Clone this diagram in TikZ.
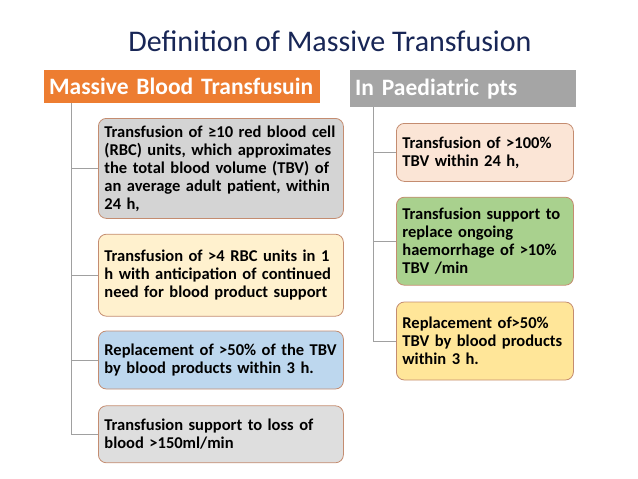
\documentclass[tikz,border=0pt]{standalone}
\usepackage{fontspec}
\setmainfont{Carlito}
\usepackage{xcolor}
\usetikzlibrary{positioning}

\definecolor{titleblue}{RGB}{24,38,86}
\definecolor{headorange}{RGB}{237,125,49}
\definecolor{headgray}{RGB}{165,165,165}
\definecolor{boxline}{RGB}{196,140,112}
\definecolor{trunkgray}{RGB}{160,160,160}
\definecolor{fillgray}{RGB}{212,212,212}
\definecolor{fillgraylt}{RGB}{222,222,222}
\definecolor{fillcream}{RGB}{255,241,206}
\definecolor{fillblue}{RGB}{189,215,238}
\definecolor{fillpeach}{RGB}{251,229,214}
\definecolor{fillgreen}{RGB}{169,209,142}
\definecolor{fillyellow}{RGB}{255,230,153}

\begin{document}
\begin{tikzpicture}[
  x=1pt, y=-1pt,
  node distance=15pt,
  head/.style={rectangle, draw=none, text=white, align=left, inner xsep=5pt, inner ysep=0pt,
    font=\bfseries\fontsize{23.5}{26}\selectfont},
  lbox/.style={rectangle, rounded corners=8pt, draw=boxline, line width=0.8pt, align=left,
    text width=233pt, inner xsep=6pt, inner ysep=0pt, font=\bfseries\fontsize{16.5}{18}\selectfont},
  rbox/.style={lbox, text width=165pt},
  branch/.style={draw=trunkgray, line width=0.8pt}
]
\useasboundingbox (0,0) rectangle (638,479);

\node[anchor=base, text=titleblue, font=\fontsize{30}{32}\selectfont] (title) at (330,51) {Definition of Massive Transfusion};

% left column
\node[head, fill=headorange, anchor=north west, text width=266pt, minimum height=33pt] (mbt) at (44,70) {Massive Blood Transfusuin};
\node[lbox, fill=fillgray, anchor=north west, minimum height=100pt] (l1) at (98,118) {Transfusion of ≥10 red blood cell\\(RBC) units, which approximates\\the total blood volume (TBV) of\\an average adult patient, within\\24 h,};
\node[lbox, fill=fillcream, below=of l1, minimum height=82pt] (l2) {Transfusion of >4 RBC units in 1\\h with anticipation of continued\\need for blood product support};
\node[lbox, fill=fillblue, below=14pt of l2, minimum height=58pt] (l3) {Replacement of >50\% of the TBV\\by blood products within 3 h.};
\node[lbox, fill=fillgraylt, below=16pt of l3, minimum height=57pt] (l4) {Transfusion support to loss of\\blood >150ml/min};

% right column
\node[head, fill=headgray, anchor=north west, text width=216pt, minimum height=37pt] (paed) at (350,70) {In Paediatric pts};
\node[rbox, fill=fillpeach, anchor=north west, minimum height=58pt] (r1) at (396,123) {Transfusion of >100\%\\TBV within 24 h,};
\node[rbox, fill=fillgreen, below=of r1, minimum height=88pt] (r2) {Transfusion support to\\replace ongoing\\haemorrhage of >10\%\\TBV /min};
\node[rbox, fill=fillyellow, below=16pt of r2, minimum height=78pt] (r3) {Replacement of>50\%\\TBV by blood products\\within 3 h.};

% tree lines
\coordinate (ltrunk) at (71,103);
\coordinate (rtrunk) at (373,107);
\draw[branch] (ltrunk) |- (l1.west);
\draw[branch] (ltrunk) |- (l2.west);
\draw[branch] (ltrunk) |- (l3.west);
\draw[branch] (ltrunk) |- (l4.west);
\draw[branch] (rtrunk) |- (r1.west);
\draw[branch] (rtrunk) |- (r2.west);
\draw[branch] (rtrunk) |- (r3.west);

\end{tikzpicture}
\end{document}
